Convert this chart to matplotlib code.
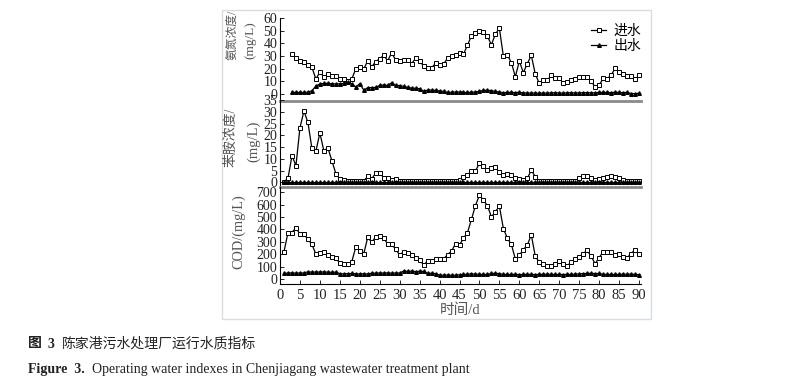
import matplotlib
matplotlib.use("Agg")
import matplotlib.pyplot as plt
from matplotlib.patches import Rectangle

plt.rcParams['font.family'] = ['Liberation Serif', 'Noto Sans CJK SC', 'DejaVu Sans']

# ammonia nitrogen, days 3-90
days_nh = list(range(3, 91))
nh_in = [31.8, 28.6, 26.0, 25.5, 22.8, 21.0, 11.8, 17.3, 13.4, 15.5, 14.4, 13.9, 11.8, 11.5, 10.2, 11.8,
         19.9, 21.0, 19.7, 26.2, 21.5, 25.5, 27.8, 30.4, 26.2, 32.5, 26.8, 26.2, 26.5, 26.8, 23.9, 28.1,
         26.0, 22.0, 20.2, 20.7, 24.1, 22.8, 23.6, 28.1, 29.9, 30.7, 32.5, 31.2, 38.6, 45.7, 47.8, 49.9,
         48.6, 45.4, 38.8, 47.2, 51.7, 29.7, 30.7, 24.7, 13.6, 26.0, 16.8, 23.9, 30.4, 15.7, 8.4, 10.8,
         10.8, 14.7, 12.3, 12.9, 8.4, 9.2, 10.8, 11.5, 13.6, 13.6, 13.1, 10.2, 5.5, 6.8, 12.3, 12.1,
         14.7, 20.2, 17.6, 15.5, 14.2, 14.2, 11.5, 14.7]
nh_out = [1.5, 1.2, 1.3, 1.2, 1.5, 2.5, 6.3, 7.9, 8.4, 8.4, 8.1, 7.9, 8.1, 8.4, 9.2, 7.9,
          5.5, 8.1, 3.1, 5.0, 5.0, 5.2, 6.8, 7.1, 6.8, 8.9, 6.8, 6.6, 6.0, 5.2, 4.7, 4.5,
          4.2, 2.1, 3.1, 3.1, 2.9, 2.4, 2.1, 1.3, 1.3, 1.6, 1.6, 1.3, 1.2, 1.4, 1.6, 2.2,
          2.8, 3.0, 2.6, 2.0, 1.5, 1.0, 1.2, 1.3, 1.1, 1.3, 0.9, 0.8, 0.7, 0.8, 0.6, 0.8,
          0.7, 0.9, 1.0, 0.8, 0.7, 0.9, 1.0, 0.8, 0.9, 1.0, 1.1, 0.9, 1.0, 1.2, 1.3, 1.2,
          1.1, 1.3, 1.2, 1.1, 1.2, 0.4, 0.3, 0.6]

# aniline and COD, days 1-90
days = list(range(1, 91))
an_in = [0.3, 1.7, 11.3, 7.1, 23.2, 30.3, 25.5, 14.4, 13.3, 21.0, 13.3, 14.7, 9.2, 3.7, 1.4, 0.8,
         0.6, 0.5, 0.7, 0.7, 0.6, 2.5, 1.5, 4.0, 4.0, 2.0, 1.7, 1.1, 1.3, 0.6, 0.5, 0.6,
         0.5, 0.6, 0.7, 0.5, 0.5, 0.6, 0.5, 0.5, 0.6, 0.5, 0.7, 0.6, 0.8, 2.3, 3.1, 4.8,
         4.8, 8.1, 6.8, 5.1, 5.9, 6.5, 4.2, 3.1, 3.7, 3.1, 1.7, 1.4, 0.8, 1.7, 5.1, 2.4,
         0.5, 0.6, 0.5, 0.5, 0.6, 0.5, 0.5, 0.6, 0.5, 0.6, 1.7, 2.5, 2.5, 1.7, 0.8, 1.4,
         2.0, 2.4, 2.8, 2.2, 1.7, 1.1, 0.5, 0.5, 0.5, 0.5]
an_out = [0.1] * 90

cod_in = [221, 375, 375, 415, 361, 361, 321, 280, 200, 213, 218, 194, 178, 167, 129, 119,
          124, 140, 259, 229, 205, 337, 296, 342, 348, 334, 280, 280, 240, 194, 221, 208,
          197, 172, 156, 113, 146, 146, 162, 159, 162, 197, 225, 286, 275, 329, 375, 482,
          593, 679, 636, 593, 501, 544, 588, 407, 329, 280, 162, 191, 237, 275, 356, 183,
          137, 121, 108, 102, 124, 146, 119, 108, 135, 162, 178, 205, 232, 183, 124, 172,
          221, 221, 216, 194, 200, 178, 172, 205, 237, 200]
cod_out = [46, 48, 50, 47, 49, 48, 59, 55, 57, 56, 58, 55, 54, 56, 43, 42,
           44, 45, 42, 41, 43, 40, 48, 47, 49, 48, 50, 47, 49, 48, 65, 62,
           64, 60, 63, 61, 45, 47, 44, 32, 31, 33, 30, 32, 34, 37, 38, 44,
           38, 39, 37, 38, 45, 46, 44, 37, 38, 37, 38, 36, 37, 38, 37, 36,
           38, 37, 39, 38, 37, 38, 36, 37, 38, 39, 42, 44, 45, 46, 44, 45,
           38, 37, 38, 37, 38, 39, 38, 40, 37, 36]

W, H = 807, 385
fig = plt.figure(figsize=(W / 100, H / 100), dpi=100)
fig.patches.append(Rectangle((222 / W, 1 - 319 / H), 429 / W, 309 / H, transform=fig.transFigure,
                             fill=False, edgecolor='#d6dee3', linewidth=1))


def add_ax(top, bottom):
    return fig.add_axes([280 / W, 1 - bottom / H, 361 / W, (bottom - top) / H])


ax1 = add_ax(17.8, 101)
ax2 = add_ax(100, 187)
ax3 = add_ax(187, 283.5)

sq = dict(marker='s', markersize=3.2, markerfacecolor='white', markeredgecolor='black',
          markeredgewidth=0.7, color='black', linewidth=0.9)
tr = dict(marker='^', markersize=2.6, color='black', linewidth=0.9)

ax1.plot(days_nh, nh_in, label='进水', **sq)
ax1.plot(days_nh, nh_out, label='出水', **tr)
ax2.plot(days, an_in, **sq)
ax2.plot(days, an_out, **tr)
ax3.plot(days, cod_in, **sq)
ax3.plot(days, cod_out, **tr)

ax1.set_ylim(-5.5, 60)
ax1.set_yticks(range(0, 61, 10))
ax2.set_ylim(-2, 35)
ax2.set_yticks(range(0, 36, 5))
ax3.set_ylim(-36, 743)
ax3.set_yticks(range(0, 701, 100))

for ax in (ax1, ax2, ax3):
    ax.set_xlim(0, 90.5)
    ax.spines['top'].set_visible(False)
    ax.spines['right'].set_visible(False)
    ax.spines['left'].set_linewidth(0.8)
    ax.set_facecolor('none')
    ax.tick_params(axis='y', direction='in', length=3, width=0.6, labelsize=10, pad=2,
                   labelcolor='#222222')
for ax in (ax1, ax2):
    ax.spines['bottom'].set_color('#8a8a8a')
    ax.spines['bottom'].set_linewidth(2)
    ax.set_xticks([])
ax3.spines['bottom'].set_linewidth(0.8)
ax3.set_xticks(range(0, 91, 5))
ax3.tick_params(axis='x', direction='in', length=3, width=0.6, labelsize=10.5, pad=4,
                labelcolor='#222222')

lab = '#555555'
fig.text(232 / W, 1 - 35 / H, '氨氮浓度/', rotation=90, ha='center', va='center', fontsize=8.5, color=lab)
fig.text(250 / W, 1 - 40 / H, '(mg/L)', rotation=90, ha='center', va='center', fontsize=9.5, color=lab)
fig.text(231 / W, 1 - 137 / H, '苯胺浓度/', rotation=90, ha='center', va='center', fontsize=10, color=lab)
fig.text(254 / W, 1 - 141 / H, '(mg/L)', rotation=90, ha='center', va='center', fontsize=10.5, color=lab)
fig.text(239 / W, 1 - 232 / H, 'COD/(mg/L)', rotation=90, ha='center', va='center', fontsize=10.3, color=lab)
fig.text(460 / W, 1 - 310 / H, '时间/d', ha='center', va='center', fontsize=10.5, color=lab)

ax1.legend(loc='upper right', bbox_to_anchor=(1.0, 0.93), frameon=False,
           handlelength=1.1, handletextpad=0.5, labelspacing=0.1, borderaxespad=0,
           borderpad=0, prop={'family': ['Noto Sans CJK SC'], 'size': 10})

fig.text(28 / W, 1 - 344 / H, '图', ha='left', va='center', fontsize=10, fontweight='bold', color='#222222')
fig.text(47 / W, 1 - 344 / H, '3', ha='left', va='center', fontsize=10, fontweight='bold', color='#222222')
fig.text(62 / W, 1 - 344 / H, '陈家港污水处理厂运行水质指标', ha='left', va='center', fontsize=10,
         color='#222222', family=['Noto Sans CJK SC'])
fig.text(28 / W, 1 - 369 / H, 'Figure  3.', ha='left', va='center', fontsize=10, fontweight='bold', color='#222222')
fig.text(92 / W, 1 - 369 / H, 'Operating water indexes in Chenjiagang wastewater treatment plant',
         ha='left', va='center', fontsize=10, color='#222222')

fig.savefig('out.png', dpi=100)
